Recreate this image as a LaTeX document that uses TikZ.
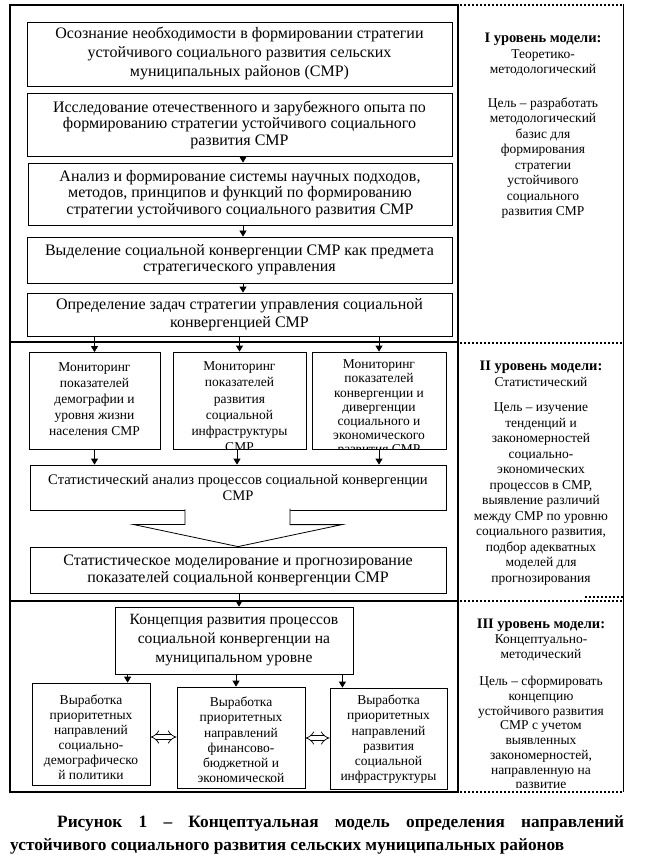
\documentclass[tikz,border=0pt]{standalone}
\usepackage{fontspec}
\setmainfont{Liberation Serif}
\usetikzlibrary{arrows.meta, positioning, calc}
\newcommand{\leveltitlefont}{\bfseries\fontsize{14.5}{15.5}\selectfont}

\begin{document}
\begin{tikzpicture}[x=1pt, y=-1pt,
    box/.style={rectangle, draw=black, line width=0.8pt, inner sep=2pt,
        align=center, font=\fontsize{16}{19}\selectfont},
    tight/.style={font=\fontsize{16}{16.5}\selectfont},
    pane/.style={rectangle, draw=black, line width=0.8pt},
    panetext/.style={align=center, inner sep=0pt, font=\fontsize{13.5}{16.2}\selectfont},
    arr/.style={-{Triangle[length=6pt, width=7pt]}, line width=0.8pt},
    dblarr/.style={{Implies}-{Implies}, double, double distance=4pt, line width=0.7pt},
    frame/.style={line width=2.6pt},
    dots/.style={line width=2pt, dash pattern=on 2pt off 2pt},
    level/.style={align=center, inner sep=0pt, font=\fontsize{13.5}{15.5}\selectfont}
]
    \useasboundingbox[fill=white] (0,0) rectangle (661,866);

    \node[box, minimum width=425pt, minimum height=64pt] (aware) at (239.5,54) {Осознание необходимости в формировании стратегии\\устойчивого социального развития сельских\\муниципальных районов (СМР)};
    \node[box, tight, minimum width=425pt, minimum height=63pt] (study) at (239.5,124.5) {Исследование отечественного и зарубежного опыта по\\формированию стратегии устойчивого социального\\развития СМР};
    \node[box, tight, minimum width=424pt, minimum height=62pt] (approach) at (240,194) {Анализ и формирование системы научных подходов,\\методов, принципов и функций по формированию\\стратегии устойчивого социального развития СМР};
    \node[box, tight, minimum width=425pt, minimum height=46pt] (subject) at (239.5,260) {Выделение социальной конвергенции СМР как предмета\\стратегического управления};
    \node[box, font=\fontsize{16}{18}\selectfont, minimum width=425pt, minimum height=43pt] (tasks) at (239.5,314.5) {Определение задач стратегии управления социальной\\конвергенцией СМР};
    \draw[arr] ([xshift=3.5pt]study.south) -- ([xshift=3.5pt]study.south |- approach.north);
    \draw[arr] ([xshift=3pt]approach.south) -- ([xshift=3pt]approach.south |- subject.north);
    \draw[arr] ([xshift=3.5pt]subject.south) -- ([xshift=3.5pt]subject.south |- tasks.north);

    \node[pane, minimum width=131pt, minimum height=97pt] (demo) at (94.5,401) {};
    \begin{scope}
        \clip (demo.south west) rectangle (demo.north east);
        \node[panetext, below=10pt of demo.north] (demotext) {Мониторинг\\показателей\\демографии и\\уровня жизни\\населения СМР};
    \end{scope}
    \node[pane, minimum width=133pt, minimum height=97pt] (infra) at (239.5,400.5) {};
    \begin{scope}
        \clip (infra.south west) rectangle (infra.north east);
        \node[panetext, below=10pt of infra.north] (infratext) {Мониторинг\\показателей\\развития\\социальной\\инфраструктуры\\СМР};
    \end{scope}
    \node[pane, minimum width=134pt, minimum height=97pt] (conv) at (379,400.5) {};
    \begin{scope}
        \clip (conv.south west) rectangle (conv.north east);
        \node[panetext, font=\fontsize{13.5}{14.2}\selectfont, below=8pt of conv.north] (convtext) {Мониторинг\\показателей\\конвергенции и\\дивергенции\\социального и\\экономического\\развития СМР};
    \end{scope}
    \draw[arr] (demo |- tasks.south) -- (demo);
    \draw[arr] (infra |- tasks.south) -- (infra);
    \draw[arr] (conv |- tasks.south) -- (conv);

    \node[box, font=\fontsize{14.6}{15.5}\selectfont, minimum width=416pt, minimum height=45pt] (stat) at (238,487.5) {Статистический анализ процессов социальной конвергенции\\СМР};
    \draw[arr] (demo) -- (demo |- stat.north);
    \draw[arr] ([xshift=-2.5pt]infra.south) -- ([xshift=-2.5pt]infra.south |- stat.north);
    \draw[arr] (conv) -- (conv |- stat.north);

    \node[box, font=\fontsize{16}{17}\selectfont, minimum width=416pt, minimum height=46pt] (model) at (238,570) {Статистическое моделирование и прогнозирование\\показателей социальной конвергенции СМР};
    \draw[fill=white, line width=0.8pt] ([xshift=-53pt, yshift=1pt]stat.south) -- ++(0,15) -- ++(-52,0)
        -- (model.north) -- ++(104,-22) -- ++(-52,0) -- ++(0,-16);

    \node[box, font=\fontsize{15.6}{19}\selectfont, minimum width=238pt, minimum height=67pt] (concept) at (234,640.5) {Концепция развития процессов\\социальной конвергенции на\\муниципальном уровне};
    \draw[arr] ([xshift=1pt]model.south) -- ([xshift=1pt]model.south |- concept.north);

    \node[pane, minimum width=118pt, minimum height=102pt] (demopol) at (91,734) {};
    \node[panetext, font=\fontsize{13.5}{15.1}\selectfont, below=12pt of demopol.north] (demopoltext) {Выработка\\приоритетных\\направлений\\социально-\\демографическо\\й политики};
    \node[pane, minimum width=128pt, minimum height=101pt] (finpol) at (241,737.5) {};
    \node[panetext, font=\fontsize{13.5}{15.3}\selectfont, below=10pt of finpol.north] (finpoltext) {Выработка\\приоритетных\\направлений\\финансово-\\бюджетной и\\экономической};
    \node[pane, minimum width=117pt, minimum height=101pt] (infrapol) at (388.5,738.5) {};
    \node[panetext, font=\fontsize{13.5}{15.3}\selectfont, below=7pt of infrapol.north] (infrapoltext) {Выработка\\приоритетных\\направлений\\развития\\социальной\\инфраструктуры};
    \draw[arr] ([xshift=13pt]concept.south west) -- ([xshift=13pt]concept.south west |- demopol.north);
    \draw[arr] ([xshift=2pt]concept.south) -- ([xshift=2pt]concept.south |- finpol.north);
    \draw[arr] ([xshift=-11pt]concept.south east) -- ([xshift=-11pt]concept.south east |- infrapol.north);
    \draw[dblarr] ([yshift=-3pt]demopol.east) -- ([yshift=-3pt]demopol.east -| finpol.west);
    \draw[dblarr] ([yshift=-0.5pt]finpol.east) -- ([yshift=-0.5pt]finpol.east -| infrapol.west);

    \draw[frame] (10,5) rectangle (458,792);
    \draw[frame] (10,342) -- (458,342);
    \draw[frame] (10,601) -- (458,601);
    \draw[line width=0.8pt] (623,4) -- (623,792);
    \draw[dots] (460,5) -- (623,5);
    \draw[dots] (460,343) -- (623,343);
    \draw[dots] (585,597) -- (623,597);
    \draw[dots] (460,601) -- (623,601);
    \draw[dots] (460,792) -- (623,792);

    \node[level, anchor=north] (lvl1) at (543,33) {{\leveltitlefont I уровень модели:}\\Теоретико-\\методологический\\[18pt]Цель – разработать\\методологический\\базис для\\формирования\\стратегии\\устойчивого\\социального\\развития СМР};
    \node[level, anchor=north] (lvl2) at (541,361) {{\leveltitlefont II уровень модели:}\\Статистический\\[10pt]Цель – изучение\\тенденций и\\закономерностей\\социально-\\экономических\\процессов в СМР,\\выявление различий\\между СМР по уровню\\социального развития,\\подбор адекватных\\моделей для\\прогнозирования};
    \begin{scope}
        \clip (460,602) rectangle (622,787);
        \node[level, font=\fontsize{13.5}{14.7}\selectfont, anchor=north] (lvl3) at (541,619) {{\leveltitlefont III уровень модели:}\\Концептуально-\\методический\\[13pt]Цель – сформировать\\концепцию\\устойчивого развития\\СМР с учетом\\выявленных\\закономерностей,\\направленную на\\развитие};
    \end{scope}

    \node[anchor=north west, text width=614pt, align=justify, inner sep=0pt,
        font=\bfseries\fontsize{17.3}{23}\selectfont] (caption) at (10,815)
        {\hspace*{47pt}Рисунок 1 – Концептуальная модель определения направлений\linebreak устойчивого социального развития сельских муниципальных районов};
\end{tikzpicture}
\end{document}
